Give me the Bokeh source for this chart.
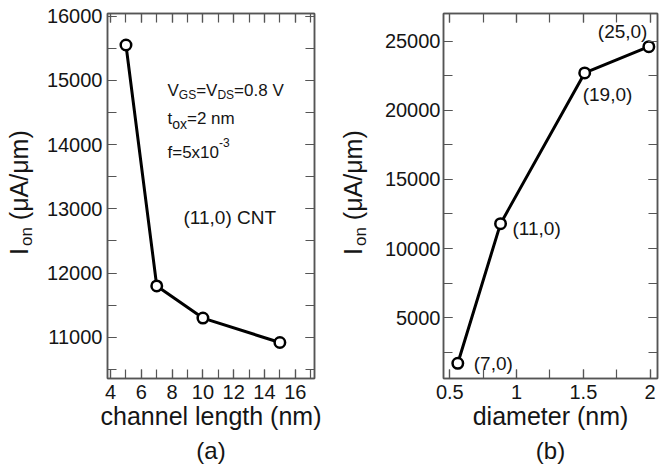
from bokeh.plotting import figure
from bokeh.models import (Range1d, LinearAxis, SingleIntervalTicker, Label, Title,
                          ColumnDataSource, Div)
from bokeh.layouts import row
from bokeh.embed import file_html
from bokeh.resources import INLINE
from bokeh.core.properties import value

# ---------------- data ----------------
channel_length_nm = [5, 7, 10, 15]
ion_vs_length = [15550, 11800, 11300, 10920]

diameter_nm = [0.56, 0.88, 1.51, 1.99]
ion_vs_diameter = [1700, 11800, 22700, 24600]
chirality = ["(7,0)", "(11,0)", "(19,0)", "(25,0)"]

# ---------------- style ----------------
FONT = "Liberation Sans"
AXIS_COLOR = "#555555"
TEXT_COLOR = "#151515"
H = 467
FT, FB = 13, 378  # frame top / bottom (canvas px)

ARIAL = {"(": .333, ")": .333, ",": .278, " ": .278, "=": .584, ".": .278, "-": .333,
         "V": .667, "G": .778, "S": .667, "D": .722, "t": .278, "o": .556, "x": .5,
         "f": .278, "n": .556, "m": .833}


def tw(s, size):
    return sum(ARIAL.get(c, .556) for c in s) * size


def make_axis(interval, show_labels, standoff):
    a = LinearAxis(ticker=SingleIntervalTicker(interval=interval, num_minor_ticks=2))
    a.major_tick_in = 9
    a.major_tick_out = 0
    a.minor_tick_in = 9
    a.minor_tick_out = 0
    a.axis_line_color = AXIS_COLOR
    a.axis_line_width = 1.5
    a.major_tick_line_color = AXIS_COLOR
    a.minor_tick_line_color = AXIS_COLOR
    a.major_tick_line_width = 1.2
    a.minor_tick_line_width = 1.2
    a.major_label_text_font = FONT
    a.axis_label_text_font = FONT
    a.axis_label_text_font_style = "normal"
    a.axis_label_text_font_size = "25px"
    a.axis_label_text_color = TEXT_COLOR
    if show_labels:
        a.major_label_text_font_size = "20px"
        a.major_label_text_color = TEXT_COLOR
        a.major_label_standoff = standoff
    else:
        a.major_label_text_font_size = "1px"
        a.major_label_text_color = None
        a.major_label_standoff = 0
    return a


def make_panel(width, fl, fr, xr, yr, xint, yint, xlabel, lstand, tag):
    p = figure(width=width, height=H, x_range=Range1d(*xr), y_range=Range1d(*yr),
               output_backend="svg", toolbar_location=None,
               x_axis_location=None, y_axis_location=None,
               min_border_left=fl, min_border_right=width - fr,
               min_border_top=FT, min_border_bottom=H - FB)
    p.grid.visible = False
    p.outline_line_color = AXIS_COLOR
    p.outline_line_width = 1.5
    p.background_fill_color = "white"
    p.border_fill_color = "white"
    bx = make_axis(xint, True, 6)
    bx.axis_label = xlabel
    bx.axis_label_standoff = 0
    p.add_layout(bx, "below")
    p.add_layout(make_axis(xint, False, 0), "above")
    p.add_layout(make_axis(yint, True, lstand), "left")
    p.add_layout(make_axis(yint, False, 0), "right")
    p.add_layout(Title(text=tag, align="center", text_font=FONT, text_font_size="24px",
                       text_font_style="normal", text_color=TEXT_COLOR, standoff=4), "below")

    def to_data(cx, cy):
        x = xr[0] + (cx - fl) / (fr - fl) * (xr[1] - xr[0])
        y = yr[1] - (cy - FT) / (FB - FT) * (yr[1] - yr[0])
        return x, y

    return p, to_data


def label(p, to_data, cx, cy, text, size, dx=0):
    x, y = to_data(cx, cy)
    p.add_layout(Label(x=x, y=y, x_offset=dx, text=text,
                       text_font=FONT, text_font_size=f"{size}px", text_color=TEXT_COLOR,
                       text_baseline="alphabetic", text_align="left"))


def ytitle_div(width, left, top):
    html = (
        f'<div style="position:relative;width:{width}px;height:{H}px;">'
        f'<div style="position:absolute;left:{left}px;top:{top}px;white-space:nowrap;'
        f'transform:rotate(-90deg);transform-origin:left top;line-height:25px;'
        f'font-family:\'{FONT}\';font-size:25px;color:{TEXT_COLOR};">'
        f'I<span style="font-size:17px;line-height:17px;vertical-align:-4px;margin-left:2px;">on</span>'
        f' (μA/μm)</div></div>'
    )
    return Div(text=html, width=width, height=H, margin=0)


# ---------------- panel (a) ----------------
DA_W = 40
pa, da = make_panel(330 - DA_W, 107 - DA_W, 314 - DA_W, (3.8, 17.25), (10360, 16040), 2, 1000,
                    "channel length (nm)", 5, "(a)")
pa.line(channel_length_nm, ion_vs_length, line_width=3, color="black")
pa.scatter(channel_length_nm, ion_vs_length, marker="circle", size=10.5,
           fill_color="white", line_color="black", line_width=2.5)

x0 = 167 - DA_W
M, S = 17, 12
label(pa, da, x0, 90, "V", M)
o = tw("V", M)
label(pa, da, x0, 94, "GS", S, dx=o)
o += tw("GS", S)
label(pa, da, x0, 90, "=V", M, dx=o)
o += tw("=V", M)
label(pa, da, x0, 94, "DS", S, dx=o)
o += tw("DS", S)
label(pa, da, x0, 90, "=0.8 V", M, dx=o)

label(pa, da, x0, 118, "t", M)
o = tw("t", M)
label(pa, da, x0, 123, "ox", 14, dx=o)
o += tw("ox", 14)
label(pa, da, x0, 118, "=2 nm", M, dx=o)

label(pa, da, x0, 152, "f=5x10", M)
label(pa, da, x0, 142, "-3", 12, dx=tw("f=5x10", M))

label(pa, da, 183 - DA_W, 217, "(11,0) CNT", 19)

# ---------------- panel (b) ----------------
DB_W = 46
pb, db = make_panel(329 - DB_W, 443 - 330 - DB_W, 657 - 330 - DB_W, (0.453, 2.055),
                    (600, 27000), 0.5, 5000, "diameter (nm)", 3, "(b)")
pb.line(diameter_nm, ion_vs_diameter, line_width=3, color="black")
pb.scatter(diameter_nm, ion_vs_diameter, marker="circle", size=10.5,
           fill_color="white", line_color="black", line_width=2.5)

label_dx = [16, 12, -2, -51]
label_dy = [0, 5, 22, -15]
src = ColumnDataSource(dict(x=diameter_nm, y=ion_vs_diameter, t=chirality,
                            dx=label_dx, dy=label_dy))
pb.text(x="x", y="y", text="t", x_offset="dx", y_offset="dy", source=src,
        text_font=value(FONT), text_font_size="19px", text_color=TEXT_COLOR,
        text_baseline="middle", text_align="left")

div_a = ytitle_div(DA_W, 7, 255)
div_b = ytitle_div(DB_W, 11, 255)

layout = row(div_a, pa, div_b, pb)
open("out.html", "w").write(file_html(layout, INLINE))
